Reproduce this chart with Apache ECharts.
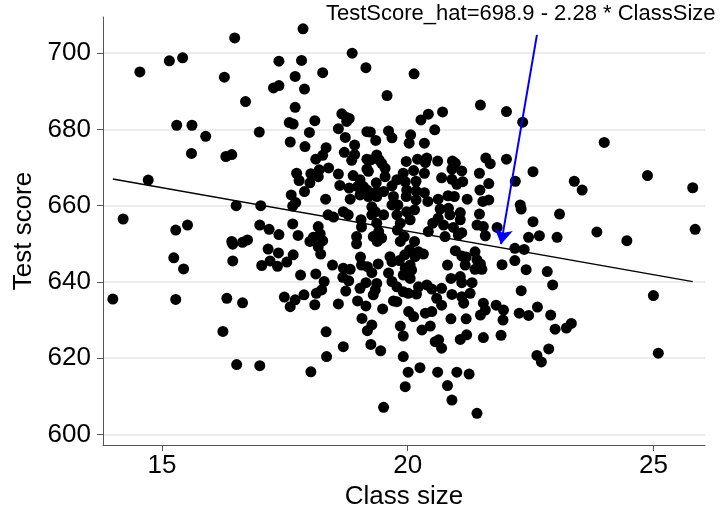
<!DOCTYPE html>
<html>
<head>
<meta charset="utf-8">
<script src="https://cdn.jsdelivr.net/npm/echarts@6/dist/echarts.min.js"></script>
<style>
  html, body { margin: 0; padding: 0; background: #fff; }
  #main { width: 725px; height: 505px; }
</style>
</head>
<body>
<div id="main"></div>
<script>
// class size (students per teacher) and test score
var classSize = [
  14.55,15.15,15.42,16.48,16.27,16.70,15.30,15.61,15.89,15.60,16.30,16.42,16.98,14.72,16.51,17.01,14.21,17.38,17.87,17.84,
  17.71,18.27,18.87,19.15,19.58,17.27,17.38,17.90,17.71,17.59,17.67,18.11,18.00,17.61,17.91,18.34,18.13,18.27,18.66,18.76,
  18.81,18.76,18.59,18.73,18.92,18.71,18.92,18.86,19.17,19.24,19.61,19.68,19.35,17.74,17.79,18.03,18.20,18.18,18.01,17.90,
  18.39,18.59,18.62,17.63,17.72,17.66,18.33,18.81,18.83,18.89,19.17,19.25,19.37,19.42,19.47,19.17,19.20,19.54,19.54,19.36,
  19.03,19.10,19.17,19.24,19.03,19.20,19.37,19.51,19.68,19.71,19.80,19.97,19.91,19.95,19.98,19.97,18.38,18.69,18.79,19.27,
  19.34,19.51,19.78,19.05,18.98,19.37,18.49,17.66,18.18,18.22,18.08,17.77,19.06,18.96,19.27,19.37,19.41,19.30,19.47,19.68,
  20.13,21.48,22.01,22.34,20.27,20.42,20.71,20.55,20.06,20.03,20.34,24.00,20.20,20.39,20.36,20.61,20.91,20.97,20.90,21.10,
  20.12,20.34,21.59,21.68,22.01,21.46,22.55,22.19,21.65,21.47,20.69,20.90,21.00,21.12,23.39,23.55,24.88,25.80,20.17,20.17,
  20.34,20.17,20.41,20.62,20.82,20.95,21.21,21.53,21.65,22.29,22.31,23.09,20.14,20.66,20.83,20.86,21.07,21.46,22.55,19.78,
  19.98,19.85,20.05,21.07,20.62,20.51,20.73,20.93,21.41,21.54,21.82,21.03,21.10,21.58,20.42,20.76,20.14,19.93,19.79,19.85,
  23.85,25.85,22.46,22.68,23.04,24.46,22.18,22.37,21.92,22.18,22.41,22.84,22.95,22.31,25.00,21.95,21.94,21.90,22.27,22.46,
  22.64,22.91,23.00,23.23,23.33,22.87,22.63,22.72,25.10,15.28,15.52,15.24,15.44,16.42,16.44,16.64,16.74,16.44,16.99,17.18,
  17.38,17.16,17.37,17.03,17.20,17.35,17.54,14.00,15.28,16.32,16.64,17.49,17.61,16.24,16.52,16.99,18.01,18.18,18.23,18.27,
  17.67,17.82,18.13,18.47,18.69,18.83,18.68,18.80,18.96,19.04,19.06,19.18,19.27,19.40,19.38,19.64,19.68,19.61,19.68,18.30,
  18.25,18.14,17.71,17.89,18.11,18.59,18.74,19.15,19.03,19.37,19.34,19.30,18.98,19.15,19.49,19.71,19.07,19.27,19.18,18.34,
  18.69,19.25,19.45,18.35,18.03,19.51,20.04,19.94,19.83,20.22,20.32,20.15,20.05,19.95,20.08,19.91,20.05,19.78,19.91,20.01,
  20.22,20.39,20.49,20.18,19.78,20.02,20.12,20.36,20.49,19.85,19.91,20.29,20.46,20.59,20.69,20.69,20.90,20.81,20.88,21.07,
  21.10,21.31,20.97,21.10,21.17,21.19,21.37,21.41,21.37,21.48,21.51,21.10,21.14,21.27,21.54,21.58,21.48,21.80,20.88,21.19,
  21.54,21.07,21.20,20.56,20.63,20.69,19.91,20.01,20.25,20.61,21.00,21.25,19.95,20.81,20.90,21.41
];
var testScore = [
  695.1,698.0,698.8,704.0,693.7,687.3,681.1,681.1,678.2,673.7,672.9,673.4,679.3,666.7,660.0,660.0,656.5,697.9,706.4,698.1,
  693.9,694.9,700.0,696.2,688.9,690.9,691.5,690.6,685.8,681.8,681.4,682.3,679.2,676.7,675.5,675.2,672.2,673.2,684.1,683.1,
  682.9,682.1,680.2,677.9,675.9,674.0,673.4,671.9,679.4,679.3,679.6,677.8,677.1,668.5,666.6,668.4,669.4,667.6,666.0,663.7,
  669.9,668.3,665.3,662.8,660.8,659.9,661.7,664.6,661.7,667.9,672.2,672.0,673.3,672.0,671.1,669.6,669.0,669.8,667.6,666.0,
  666.8,665.0,664.1,663.3,662.8,662.4,662.4,663.7,665.2,662.4,660.2,671.6,668.5,666.3,664.1,662.4,657.6,658.4,657.6,659.7,
  658.4,657.6,657.6,656.3,665.0,663.7,657.0,655.2,654.5,652.6,651.7,652.2,654.4,651.9,657.6,655.4,653.2,651.9,651.5,660.2,
  694.6,686.4,684.7,681.9,682.5,684.0,684.6,679.9,678.6,676.4,676.4,676.6,672.2,672.5,671.3,671.7,671.7,671.1,669.6,669.1,
  669.2,668.5,672.5,671.0,672.2,668.5,668.9,666.4,665.8,664.1,667.3,666.9,665.6,666.3,666.4,664.1,667.9,664.7,666.4,663.9,
  663.4,661.5,661.1,661.7,662.6,662.4,661.7,661.1,661.5,660.2,659.1,657.8,658.9,659.1,659.3,657.6,658.2,657.8,655.8,666.8,
  658.4,655.4,656.3,656.3,656.7,655.4,654.9,654.3,654.9,654.5,654.3,652.3,652.9,652.1,653.2,651.9,650.6,651.9,653.6,650.6,
  653.1,653.8,651.7,652.1,651.7,650.8,648.8,648.5,644.5,645.6,643.2,642.7,639.2,637.7,636.4,632.6,630.0,626.0,631.8,631.2,
  633.4,631.3,627.6,627.9,629.1,622.4,620.7,619.0,621.3,653.6,654.9,646.3,643.4,650.6,649.9,650.4,651.0,645.5,654.9,653.8,
  652.4,648.6,647.6,644.3,645.5,644.1,645.2,635.5,635.4,635.7,634.5,636.0,633.5,627.0,618.3,618.0,650.6,649.2,647.3,650.8,
  647.1,641.8,642.1,644.4,643.6,643.3,641.2,640.3,650.0,646.5,644.4,644.0,642.4,644.7,650.6,646.6,645.3,642.3,640.1,640.1,
  637.9,637.0,635.3,636.6,634.0,634.2,637.6,639.8,638.3,639.6,637.9,636.6,635.0,633.7,632.9,635.0,630.4,628.7,627.2,626.9,
  623.0,623.6,621.9,620.4,616.4,607.1,648.4,647.1,645.6,647.9,647.3,646.6,644.4,643.6,643.1,641.8,640.9,638.7,637.4,637.0,
  638.7,639.2,638.1,636.8,634.8,632.2,630.9,631.8,632.2,628.4,625.8,627.4,628.4,635.7,633.9,638.3,636.7,644.4,640.9,641.4,
  639.8,639.8,648.2,646.8,644.4,646.5,647.9,645.8,643.3,644.7,643.3,636.1,634.4,637.0,634.4,632.6,631.3,633.9,630.3,630.3,
  625.4,624.9,626.1,624.3,624.8,622.6,620.4,616.3,617.5,616.3,616.3,615.8,612.5,612.8,609.0,605.5
];

// fitted line: TestScore_hat = 698.9 - 2.28 * ClassSize
var fitCoef = [698.9, -2.28];
var fitRange = [14, 25.8];
var arrowFrom = [22.63, 704.8];
var arrowTo = [21.9, 649.9];
var xTicks = [15, 20, 25];
var yTicks = [600, 620, 640, 660, 680, 700];

var points = classSize.map(function (x, i) {
  return [x, testScore[i]];
});
var fitLine = fitRange.map(function (x) {
  return [x, fitCoef[0] + fitCoef[1] * x];
});

var chart = echarts.init(document.getElementById('main'), null, { renderer: 'canvas' });
var font = 'Liberation Sans, Arial, sans-serif';

var option = {
  animation: false,
  backgroundColor: '#fff',
  textStyle: { fontFamily: font },
  grid: { left: 103, right: 20, top: 17, bottom: 60, outerBoundsMode: 'none' },
  graphic: [{
    type: 'text',
    left: 326,
    top: 3,
    style: {
      text: 'TestScore_hat=698.9 - 2.28 * ClassSize',
      font: '22px ' + font,
      fill: '#000'
    }
  }],
  xAxis: {
    type: 'value',
    min: 13.8,
    max: 26.05,
    name: 'Class size',
    nameLocation: 'middle',
    nameGap: 34,
    nameTextStyle: { fontSize: 26, color: '#000' },
    axisLine: { show: true, lineStyle: { color: '#555', width: 1 } },
    axisTick: { show: true, customValues: xTicks, length: 6, lineStyle: { color: '#555' } },
    axisLabel: { customValues: xTicks, fontSize: 26, color: '#000', margin: 8 },
    splitLine: { show: false }
  },
  yAxis: {
    type: 'value',
    min: 597.2,
    max: 709.5,
    name: 'Test score',
    nameLocation: 'middle',
    nameGap: 66,
    nameTextStyle: { fontSize: 26, color: '#000' },
    axisLine: { show: true, lineStyle: { color: '#555', width: 1 } },
    axisTick: { show: true, customValues: yTicks, length: 6, lineStyle: { color: '#555' } },
    axisLabel: { customValues: yTicks, fontSize: 26, color: '#000', margin: 12 },
    splitLine: { show: true, lineStyle: { color: '#e6e6e6', width: 1.5 } }
  },
  series: [
    {
      type: 'scatter',
      data: points,
      symbol: 'circle',
      symbolSize: 11,
      itemStyle: { color: '#000', opacity: 1 },
      silent: true
    },
    {
      type: 'line',
      data: fitLine,
      symbol: 'none',
      lineStyle: { color: '#000', width: 1.4 },
      silent: true,
      markLine: {
        silent: true,
        symbol: ['none', 'arrow'],
        symbolSize: [14, 15],
        label: { show: false },
        lineStyle: { color: '#0000ff', width: 2, type: 'solid' },
        data: [[{ coord: arrowFrom }, { coord: arrowTo }]]
      }
    }
  ]
};
chart.setOption(option);
</script>
</body>
</html>
